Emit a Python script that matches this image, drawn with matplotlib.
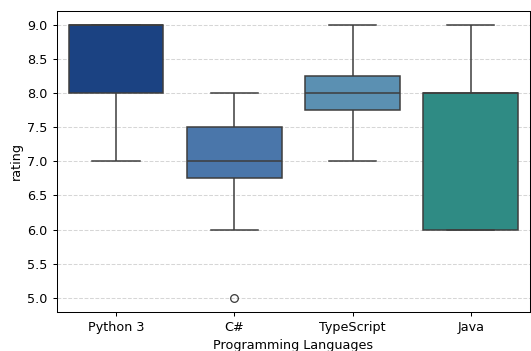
import matplotlib
matplotlib.use("Agg")
import matplotlib.pyplot as plt
import pandas as pd
import seaborn as sns

# datos
python3 = [7, 8, 8, 9, 9, 9, 9]
csharp = [5, 6, 6.75, 7, 7, 7.5, 7.5, 8, 8]
typescript = [7, 7, 8, 8, 8, 8, 9, 9]
java = [6, 6, 8, 8, 9]

lenguajes = ["Python 3", "C#", "TypeScript", "Java"]
colores = ["#1b4282", "#4a76aa", "#5b90b2", "#2f8b84"]

filas = []
for nombre, valores in zip(lenguajes, [python3, csharp, typescript, java]):
    for v in valores:
        filas.append({"Programming Languages": nombre, "rating": v})
df = pd.DataFrame(filas)

# dpi 92 -> 531x351 px, todo un poco más pequeño como en la referencia
fig, ax = plt.subplots(figsize=(531 / 92, 351 / 92), dpi=92)
fig.subplots_adjust(left=0.107, right=0.998, top=0.969, bottom=0.112)

sns.boxplot(data=df, x="Programming Languages", y="rating", hue="Programming Languages",
            order=lenguajes, palette=colores, saturation=1, legend=False, ax=ax,
            linecolor="#3d3d3d", linewidth=1.2, width=0.8)

ax.yaxis.grid(True, linestyle="--", color="#cccccc", alpha=0.8)
ax.set_axisbelow(True)
ax.set_ylim(4.8, 9.2)
ax.set_yticks([5.0, 5.5, 6.0, 6.5, 7.0, 7.5, 8.0, 8.5, 9.0])

fig.savefig("out.png", dpi=92)
